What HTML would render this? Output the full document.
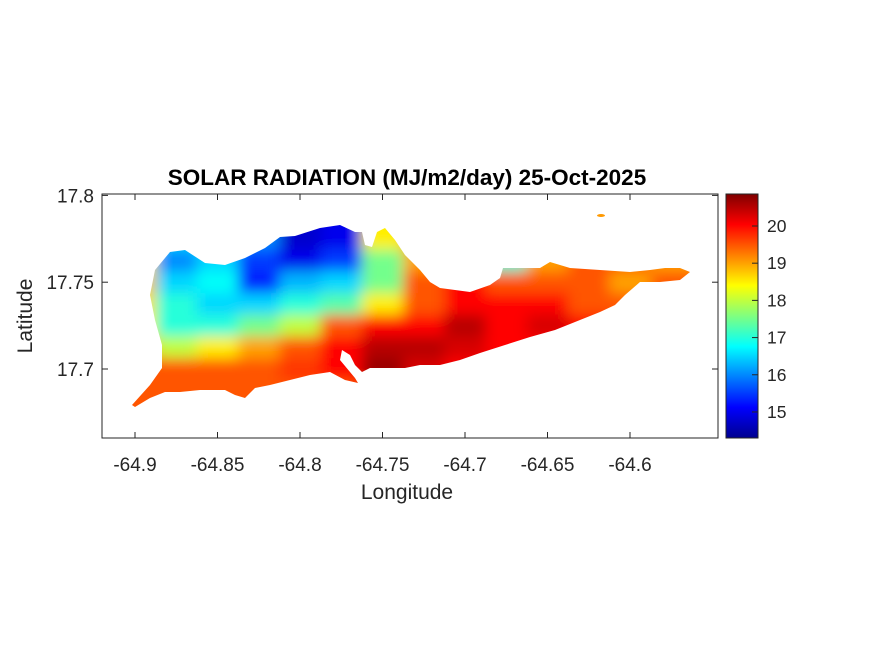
<!DOCTYPE html>
<html><head><meta charset="utf-8"><style>
body{margin:0;background:#fff;}
svg{font-family:"Liberation Sans",Arial,sans-serif;}
</style></head><body>
<svg id="c" width="875" height="656" viewBox="0 0 875 656">
<defs>
<clipPath id="isl"><path id="islpath" d="M132,405 L150,385 L162,368 L162,345 L155,320 L150,295 L155,270 L165,258 L170,252 L185,250 L205,263 L225,265 L245,258 L265,248 L280,237 L295,236 L320,228 L340,225 L355,232 L362,232 L365,245 L372,247 L377,232 L385,228 L395,240 L405,255 L420,270 L430,282 L440,288 L455,290 L470,292 L490,285 L500,278 L503,268 L520,268 L540,268 L550,262 L570,268 L600,270 L630,272 L650,270 L665,268 L680,268 L690,272 L680,280 L660,282 L640,282 L625,295 L615,305 L600,312 L580,320 L555,330 L530,337 L505,345 L480,353 L460,360 L440,365 L420,365 L405,368 L380,368 L370,368 L362,372 L355,365 L350,355 L342,350 L340,360 L355,378 L358,383 L345,380 L330,372 L310,375 L290,380 L270,385 L255,388 L245,398 L235,395 L225,390 L200,390 L180,392 L165,392 L150,398 L135,407 Z"/></clipPath>
<filter id="bl" filterUnits="userSpaceOnUse" x="0" y="100" width="875" height="400"><feGaussianBlur stdDeviation="7"/></filter>
<linearGradient id="cbg" x1="0" y1="1" x2="0" y2="0">
<stop offset="0" stop-color="#00008f"/><stop offset="0.125" stop-color="#0000ff"/><stop offset="0.375" stop-color="#00ffff"/><stop offset="0.625" stop-color="#ffff00"/><stop offset="0.875" stop-color="#ff0000"/><stop offset="1" stop-color="#800000"/>
</linearGradient>
</defs>
<rect x="102" y="194" width="616" height="244" fill="#fff" stroke="#262626" stroke-width="1"/>
<g clip-path="url(#isl)"><g id="cells" filter="url(#bl)"></g></g>
<ellipse cx="601" cy="215.5" rx="4" ry="1.5" fill="#ff9900"/>
<g id="xt"></g><g id="yt"></g>
<text x="407" y="185" text-anchor="middle" font-size="22.5" font-weight="bold" fill="#000">SOLAR RADIATION (MJ/m2/day) 25-Oct-2025</text>
<text x="407" y="499" text-anchor="middle" font-size="21" fill="#262626">Longitude</text>
<text transform="translate(32,316) rotate(-90)" text-anchor="middle" font-size="21" fill="#262626">Latitude</text>
<rect x="726" y="194" width="32" height="244" fill="url(#cbg)" stroke="#262626"/>
<g id="ct"></g>
</svg>
<script>
const lons=[-64.9,-64.875,-64.85,-64.825,-64.8,-64.775,-64.75,-64.725,-64.7,-64.675,-64.65,-64.625,-64.6,-64.575];
const lats=[17.775,17.7625,17.75,17.7375,17.725,17.7125,17.7,17.6875];
const vals=[
[16.5,16.5,16.5,16,14.8,15,18.5,19,19,19,19,19,19,19],
[18.5,16,16.5,15.5,15,15.5,17.5,19,19.5,17,19,19.5,19.5,19],
[18.8,16.5,16.8,15.3,16.3,16.5,17.5,19.5,20,19.5,19.5,19.5,19,19.5],
[18.6,17,16.5,16.5,17,17.3,18.5,19.5,20,20,20,19.5,19.5,19.5],
[18.5,17,17,17.5,18,19.5,20,20,20.5,20,20.3,20,19.5,19.5],
[19,18,18.5,19,19.5,20,20.5,20.5,20.3,20,20,20,19.5,19.5],
[19.5,19.5,19.5,19.5,19.7,20,20.7,20.3,20,20,20,20,19.5,19.5],
[19.5,19.5,19.5,19.5,19.5,19.5,20,20,20,20,20,20,19.5,19.5]];
const xTicks=[-64.9,-64.85,-64.8,-64.75,-64.7,-64.65,-64.6];
const yTicks=[17.7,17.75,17.8];
const cTicks=[15,16,17,18,19,20];
const vmin=14.3,vmax=20.86;
const NS="http://www.w3.org/2000/svg";
const X=v=>135+(v+64.9)/0.05*82.5;
const Y=v=>369-(v-17.7)/0.05*86.8;
const C=v=>438-(v-vmin)/(vmax-vmin)*244;
function jet(v){let t=(v-vmin)/(vmax-vmin);t=Math.max(0,Math.min(1,t));
const f=(x)=>Math.max(0,Math.min(1,x));
const r=f(Math.min(4*t-1.5,-4*t+4.5)),g=f(Math.min(4*t-0.5,-4*t+3.5)),b=f(Math.min(4*t+0.5,-4*t+2.5));
return `rgb(${Math.round(r*255)},${Math.round(g*255)},${Math.round(b*255)})`;}
const cells=document.getElementById('cells');
const dx=X(lons[1])-X(lons[0]),dy=Y(lats[1])-Y(lats[0]);
vals.forEach((row,i)=>row.forEach((v,j)=>{
const r=document.createElementNS(NS,'rect');
r.setAttribute('x',X(lons[j])-dx/2-(j==0?40:0));r.setAttribute('y',Y(lats[i])-dy/2-(i==0?40:0));
r.setAttribute('width',dx+(j==0||j==lons.length-1?40:0)+1);r.setAttribute('height',dy+(i==0||i==lats.length-1?40:0)+1);
r.setAttribute('fill',jet(v));


cells.appendChild(r);}));
function tx(g,x,y,s,anchor,fs){const t=document.createElementNS(NS,'text');t.setAttribute('x',x);t.setAttribute('y',y);t.setAttribute('font-size',fs);t.setAttribute('fill','#262626');t.setAttribute('text-anchor',anchor);t.textContent=s;g.appendChild(t);return t;}
function ln(g,x1,y1,x2,y2){const l=document.createElementNS(NS,'line');l.setAttribute('x1',x1);l.setAttribute('y1',y1);l.setAttribute('x2',x2);l.setAttribute('y2',y2);l.setAttribute('stroke','#262626');g.appendChild(l);return l;}
const xt=document.getElementById('xt');
xTicks.forEach(v=>{const x=X(v);ln(xt,x,438,x,432);ln(xt,x,194,x,200);
const t=tx(xt,x,471,String(v),'middle','19');

});
const yt=document.getElementById('yt');
yTicks.forEach(v=>{const y=Y(v);ln(yt,102,y,108,y);ln(yt,718,y,712,y);
const t=tx(yt,94,y+7,String(v),'end','19');

});
const ct=document.getElementById('ct');
cTicks.forEach(v=>{const y=C(v);ln(ct,752,y,758,y);
const t=tx(ct,767,y+6,String(v),'start','17.5');

});
</script>
</body></html>
